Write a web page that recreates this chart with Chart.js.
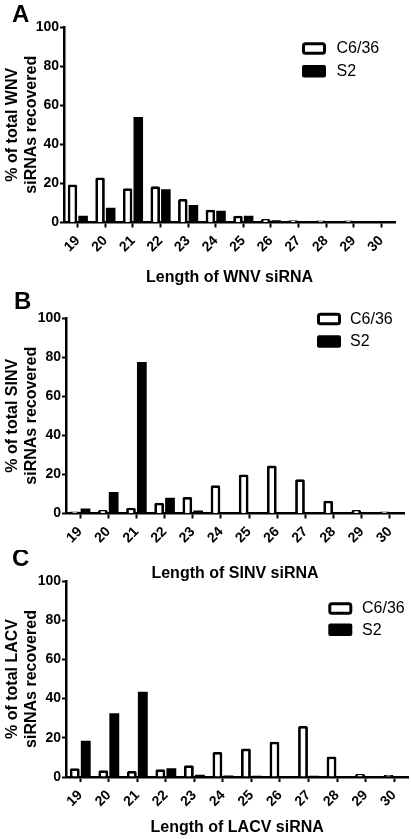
<!DOCTYPE html>
<html>
<head>
<meta charset="utf-8">
<title>siRNA length distribution</title>
<script src="https://cdn.jsdelivr.net/npm/chart.js@4.4.1/dist/chart.umd.min.js"></script>
<style>
  html, body { margin: 0; padding: 0; background: #fff; }
  body { width: 411px; height: 839px; position: relative; overflow: hidden; }
  canvas { position: absolute; left: 0; }
</style>
</head>
<body>
<canvas id="chart-a" width="411" height="291" style="top:0px"></canvas>
<canvas id="chart-b" width="411" height="317" style="top:270px"></canvas>
<canvas id="chart-c" width="411" height="291" style="top:550px"></canvas>
<script>
// siRNA lengths (nt)
const lengths = ['19', '20', '21', '22', '23', '24', '25', '26', '27', '28', '29', '30'];
const seriesNames = ['C6/36', 'S2'];
const yTicks = [0, 20, 40, 60, 80, 100];

// % of total siRNAs recovered
const wnvC636 = [19.5, 23, 17.5, 18.5, 12, 6.5, 3.5, 1.8, 1.2, 1.0, 1.0, 0];
const wnvS2 = [3.5, 7.5, 54, 17, 9, 6, 3.5, 1.2, 0.7, 0.5, 0, 0];
const sinvC636 = [1, 1.8, 3, 5.5, 8.5, 14.5, 20, 24.5, 17.5, 6.5, 1.8, 1];
const sinvS2 = [2.5, 11, 77.5, 8, 1.5, 0.5, 0.4, 0.4, 0, 0, 0, 0];
const lacvC636 = [4.5, 3.5, 3, 4, 6, 12.8, 14.5, 18, 26, 10.5, 1.5, 1];
const lacvS2 = [18.5, 32.5, 43.5, 4.5, 1.2, 0.8, 0.6, 0.5, 0.6, 0.5, 0, 0];

const FONT = 'Arial, "Liberation Sans", Helvetica, sans-serif';
Chart.defaults.font.family = FONT;
Chart.defaults.color = '#000';

// panel letter + legend drawn on the canvas, using the dataset styles
const panelDecor = {
    id: 'panelDecor',
    afterDraw(chart, args, opts) {
        const ctx = chart.ctx;
        ctx.save();
        ctx.fillStyle = '#000';
        ctx.textBaseline = 'middle';
        ctx.font = 'bold 24px ' + FONT;
        ctx.fillText(opts.letter, opts.letterX, opts.letterY);
        ctx.font = '16px ' + FONT;
        chart.data.datasets.forEach((ds, i) => {
            const x = opts.x, y = opts.y + i * opts.rowGap;
            const w = 24, h = 12.5, lw = ds.borderWidth ? 3 : 0;
            ctx.beginPath();
            ctx.roundRect(x + lw / 2, y + lw / 2, w - lw, h - lw, 2);
            ctx.fillStyle = ds.backgroundColor;
            ctx.fill();
            if (lw) {
                ctx.lineWidth = lw;
                ctx.strokeStyle = ds.borderColor;
                ctx.stroke();
            }
            ctx.fillStyle = '#000';
            ctx.fillText(ds.label, opts.textX, y + h / 2 + 0.5);
        });
        ctx.restore();
    }
};

function makePanel(id, virus, c636, s2, p) {
    new Chart(document.getElementById(id), {
        type: 'bar',
        data: {
            labels: lengths,
            datasets: [
                { label: seriesNames[0], data: c636, backgroundColor: '#fff', borderColor: '#000',
                  borderWidth: 2.8, borderRadius: 1.5, borderSkipped: 'bottom' },
                { label: seriesNames[1], data: s2, backgroundColor: '#000', borderColor: '#000', borderWidth: 0 }
            ]
        },
        options: {
            responsive: false,
            animation: false,
            events: [],
            categoryPercentage: 0.77,
            barPercentage: 0.9,
            layout: { padding: { top: p.top, right: p.right, left: 0, bottom: 0 } },
            plugins: {
                legend: { display: false },
                tooltip: { enabled: false },
                panelDecor: p.decor
            },
            scales: {
                x: {
                    afterFit: s => { s.height = p.xH; },
                    grid: { offset: false, drawOnChartArea: false, tickLength: 5, tickWidth: 2, tickColor: '#000' },
                    border: { color: '#000', width: 2.5 },
                    ticks: { autoSkip: false, minRotation: 45, maxRotation: 45, padding: 5,
                             font: { size: 14, weight: 'bold' } },
                    title: { display: true, text: 'Length of ' + virus + ' siRNA',
                             font: { size: 16, weight: 'bold' }, padding: { top: 0, bottom: 4 } }
                },
                y: {
                    min: 0,
                    max: 100,
                    afterFit: s => { s.width = p.yW; },
                    afterBuildTicks: s => { s.ticks = yTicks.map(v => ({ value: v })); },
                    grid: { drawOnChartArea: false, tickLength: 4, tickWidth: 2, tickColor: '#000' },
                    border: { color: '#000', width: 2.5 },
                    ticks: { padding: 1, font: { size: 14, weight: 'bold' } },
                    title: { display: true, text: ['% of total ' + virus, 'siRNAs recovered'],
                             font: { size: 16, weight: 'bold' }, padding: { top: 3, bottom: 0 } }
                }
            }
        },
        plugins: [panelDecor]
    });
}

makePanel('chart-a', 'WNV', wnvC636, wnvS2, {
    top: 27, right: 16, yW: 64, xH: 68.5,
    decor: { letter: 'A', letterX: 12, letterY: 15, x: 302, y: 42.3, rowGap: 22.7, textX: 336.5 }
});
makePanel('chart-b', 'SINV', sinvC636, sinvS2, {
    top: 48, right: 7, yW: 66, xH: 73.5,
    decor: { letter: 'B', letterX: 14, letterY: 32, x: 317, y: 42.7, rowGap: 22.5, textX: 350 }
});
makePanel('chart-c', 'LACV', lacvC636, lacvS2, {
    top: 31, right: 1, yW: 66, xH: 64,
    decor: { letter: 'C', letterX: 12, letterY: 9, x: 328.3, y: 52.3, rowGap: 21.2, textX: 362 }
});
</script>
</body>
</html>
